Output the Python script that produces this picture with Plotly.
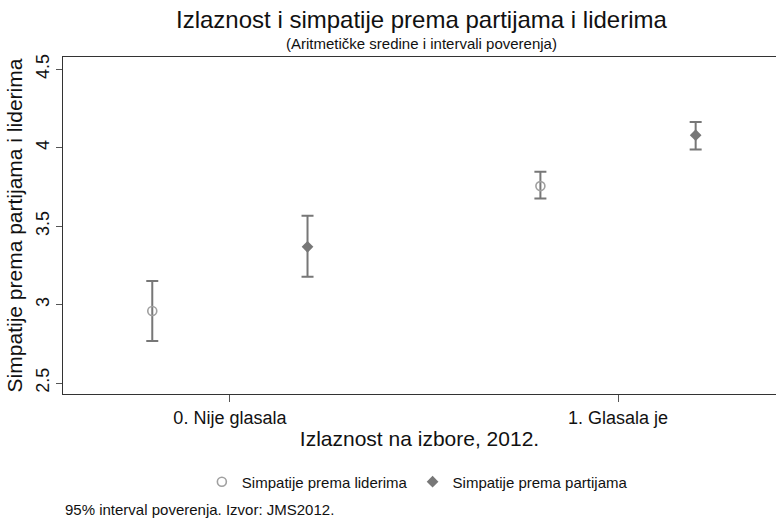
import plotly.graph_objects as go

# ---- data ----
group_labels = ["0. Nije glasala", "1. Glasala je"]
group_index = [0, 1]

leaders_name = "Simpatije prema liderima"
leaders_mean = [2.959, 3.755]
leaders_low = [2.768, 3.676]
leaders_high = [3.150, 3.846]

parties_name = "Simpatije prema partijama"
parties_mean = [3.368, 4.080]
parties_low = [3.177, 3.989]
parties_high = [3.566, 4.164]

y_ticks = [2.5, 3, 3.5, 4, 4.5]
y_tick_text = ["2.5", "3", "3.5", "4", "4.5"]

title = "Izlaznost i simpatije prema partijama i liderima"
subtitle = "(Aritmetičke sredine i intervali poverenja)"
x_title = "Izlaznost na izbore, 2012."
y_title = "Simpatije prema partijama i liderima"
note = "95% interval poverenja. Izvor: JMS2012."

FONT = "Arial, 'Liberation Sans', sans-serif"
TXT = "#111111"
ERR = "#777777"
offset = 0.2

fig = go.Figure()

fig.add_trace(go.Scatter(
    x=[g - offset for g in group_index], y=leaders_mean, mode="markers",
    name=leaders_name,
    marker=dict(symbol="circle-open", size=9, color="#a0a0a0", line=dict(width=1.6, color="#a0a0a0")),
    error_y=dict(type="data", symmetric=False,
                 array=[h - m for h, m in zip(leaders_high, leaders_mean)],
                 arrayminus=[m - l for m, l in zip(leaders_mean, leaders_low)],
                 color=ERR, thickness=2, width=6),
))
fig.add_trace(go.Scatter(
    x=[g + offset for g in group_index], y=parties_mean, mode="markers",
    name=parties_name,
    marker=dict(symbol="diamond", size=9, color="#777777"),
    error_y=dict(type="data", symmetric=False,
                 array=[h - m for h, m in zip(parties_high, parties_mean)],
                 arrayminus=[m - l for m, l in zip(parties_mean, parties_low)],
                 color=ERR, thickness=2, width=6),
))

fig.update_layout(
    width=776, height=521,
    margin=dict(l=63, r=0, t=57, b=127),
    paper_bgcolor="white", plot_bgcolor="white",
    font=dict(family=FONT, color=TXT),
    showlegend=True,
    legend=dict(orientation="h", x=0.497, xanchor="center", y=-0.261, yanchor="middle",
                font=dict(size=15, color=TXT), bgcolor="rgba(0,0,0,0)"),
    xaxis=dict(range=[-0.43, 1.407], tickvals=group_index, ticktext=group_labels,
               showgrid=False, zeroline=False, showline=True, mirror=True,
               linecolor="#333333", linewidth=1.3,
               ticks="outside", ticklen=7, tickcolor="#555555", tickwidth=1.3,
               tickfont=dict(size=18, color=TXT),
               title=dict(text=x_title, font=dict(size=21, color=TXT), standoff=4)),
    yaxis=dict(range=[2.43, 4.578], tickvals=y_ticks, ticktext=y_tick_text,
               showgrid=False, zeroline=False, showline=True, mirror=False,
               linecolor="#333333", linewidth=1.3,
               ticks="outside", ticklen=6, tickcolor="#555555", tickwidth=1.3,
               tickangle=-90, tickfont=dict(size=18, color=TXT),
               ticklabelstandoff=0,
               title=dict(text=y_title, font=dict(size=21, color=TXT), standoff=4)),
    annotations=[
        dict(text=title, xref="paper", yref="paper", x=0.5035, y=1.1098,
             xanchor="center", yanchor="middle", showarrow=False,
             font=dict(size=24, color=TXT)),
        dict(text=subtitle, xref="paper", yref="paper", x=0.5035, y=1.0386,
             xanchor="center", yanchor="middle", showarrow=False,
             font=dict(size=15, color=TXT)),
        dict(text=note, xref="paper", yref="paper", x=0, y=-0.344,
             xanchor="left", yanchor="middle", showarrow=False,
             font=dict(size=15, color=TXT)),
    ],
)

fig.write_html("out.html", config={"displayModeBar": False},
               post_script="document.body.style.margin='0';document.body.style.overflow='hidden';")
